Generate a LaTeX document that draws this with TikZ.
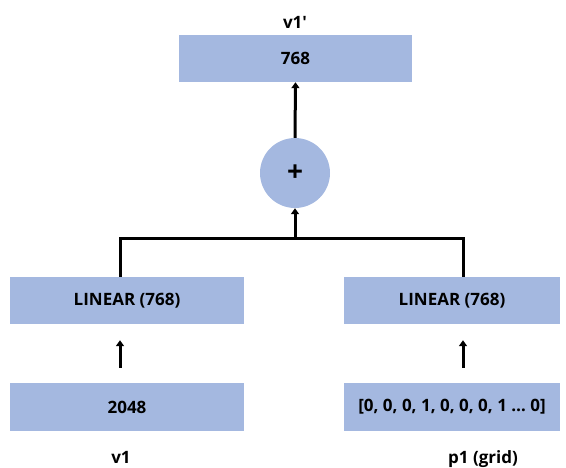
\documentclass[tikz,border=0pt]{standalone}
\usepackage{fontspec}
\setmainfont{Open Sans}
\usetikzlibrary{arrows.meta}
\definecolor{boxblue}{RGB}{164,184,224}
\tikzset{
  blk/.style={fill=boxblue, draw=none, inner sep=0pt, font=\bfseries\fontsize{17}{19}\selectfont},
  lbl/.style={inner sep=0pt, font=\bfseries\fontsize{17}{19}\selectfont},
  wire/.style={line width=3pt, black},
  arr/.style={wire, -{Triangle[width=8pt,length=6pt]}},
}
\begin{document}
\begin{tikzpicture}[x=1pt,y=-1pt]
\useasboundingbox (0,0) rectangle (566,467);
% output
\node[blk, minimum width=233pt, minimum height=47pt] (out) at (295.5,58.5) {768};
\node[lbl] (outlab) at (295,22) {v1\textquotesingle};
% sum
\node[circle, fill=boxblue, minimum size=70pt, inner sep=0pt, font=\bfseries\fontsize{28}{28}\selectfont] (sum) at (295,173) {+};
% linear layers
\node[blk, minimum width=234pt, minimum height=47pt] (linA) at (127,300.5) {LINEAR (768)};
\node[blk, minimum width=216pt, minimum height=47pt] (linB) at (452,300.5) {LINEAR (768)};
% inputs
\node[blk, minimum width=234pt, minimum height=48pt] (inA) at (127,407) {2048};
\node[blk, minimum width=216pt, minimum height=48pt] (inB) at (452,407) {[0, 0, 0, 1, 0, 0, 0, 1 \dots\ 0]};
\node[lbl] (labA) at (121,457) {v1};
\node[lbl] (labB) at (483,459) {p1 (grid)};
% junction
\coordinate (jc) at (295,238);
\coordinate (jA) at (120,238);
\coordinate (jB) at (463,238);
\draw[wire] (linA.north -| jA) -- (jA) -- (jB) -- (linB.north -| jB);
\draw[arr] (jc) -- (sum.south);
\draw[arr] (sum.north) -- (out.south);
\draw[arr, shorten <=15pt, shorten >=16pt] (inA.north -| jA) -- (linA.south -| jA);
\draw[arr, shorten <=15pt, shorten >=16pt] (inB.north -| jB) -- (linB.south -| jB);
\end{tikzpicture}
\end{document}
